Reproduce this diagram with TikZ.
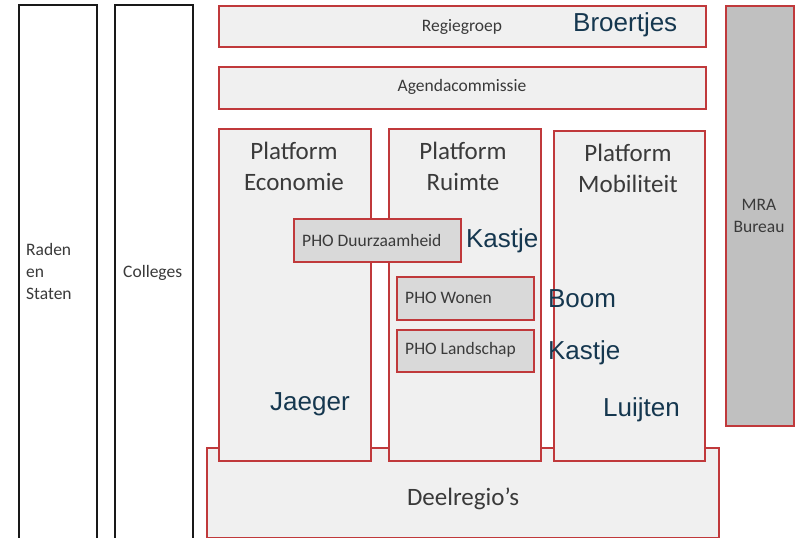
\documentclass[tikz,border=0pt]{standalone}
\usepackage{fontspec}
\setmainfont{Carlito}
\newfontfamily\arial{Liberation Sans}
\usetikzlibrary{positioning}
\definecolor{kaderrood}{HTML}{C0393B}
\definecolor{vakgrijs}{HTML}{F0F0F0}
\definecolor{phogrijs}{HTML}{D9D9D9}
\definecolor{bureaugrijs}{HTML}{C0C0C0}
\definecolor{tekstgrijs}{HTML}{3A3A3A}
\definecolor{naamblauw}{HTML}{15374F}
\tikzset{
  vak/.style={rectangle, draw=kaderrood, fill=vakgrijs, line width=1.8pt, anchor=north west, inner sep=0pt},
  zwartvak/.style={vak, draw=black!90, fill=white},
  phovak/.style={vak, fill=phogrijs},
  klein/.style={text=tekstgrijs, font=\fontsize{17.5}{22}\selectfont, inner sep=0pt, align=left},
  groot/.style={text=tekstgrijs, font=\fontsize{25}{31}\selectfont, inner sep=0pt, align=center},
  naam/.style={text=naamblauw, font=\arial\fontsize{26}{30}\selectfont, inner sep=0pt, anchor=west}
}
\begin{document}
\begin{tikzpicture}[x=1pt, y=-1pt]
\useasboundingbox (0,0) rectangle (795,538);
\node[zwartvak, minimum width=78pt, minimum height=540pt] (raden) at (18,4) {};
\node[zwartvak, minimum width=78pt, minimum height=540pt] (colleges) at (114,4) {};
\node[vak, minimum width=487pt, minimum height=41pt] (regie) at (218,5) {};
\node[vak, minimum width=487pt, minimum height=42pt] (agenda) at (218,66) {};
\node[vak, minimum width=512pt, minimum height=90pt] (deelregio) at (206,447) {};
\node[vak, minimum width=152pt, minimum height=332pt] (economie) at (218,128) {};
\node[vak, minimum width=152pt, minimum height=332pt] (ruimte) at (388,128) {};
\node[vak, minimum width=151pt, minimum height=330pt] (mobiliteit) at (553,130) {};
\node[vak, fill=bureaugrijs, minimum width=68pt, minimum height=420pt] (bureau) at (725,5) {};
\node[phovak, minimum width=167pt, minimum height=43pt] (duurzaam) at (293,218) {};
\node[phovak, minimum width=137pt, minimum height=43pt] (wonen) at (396,276) {};
\node[phovak, minimum width=137pt, minimum height=42pt] (landschap) at (396,329) {};

\node[klein, anchor=west] (radentekst) at (26,271) {Raden\\en\\Staten};
\node[klein, anchor=west] (collegestekst) at (123,273) {Colleges};
\node[klein] (regietekst) at (462,27) {Regiegroep};
\node[klein] (agendatekst) at (462,87) {Agendacommissie};
\node[klein, align=center] (bureautekst) at (759,216) {MRA\\Bureau};
\node[klein, anchor=west] (duurzaamtekst) at (302,240) {PHO Duurzaamheid};
\node[klein, anchor=west] (wonentekst) at (405,298) {PHO Wonen};
\node[klein, anchor=west] (landschaptekst) at (405,350) {PHO Landschap};
\node[groot] (economietekst) at (294,166) {Platform\\Economie};
\node[groot] (ruimtetekst) at (463,166) {Platform\\Ruimte};
\node[groot] (mobiliteittekst) at (628,168) {Platform\\Mobiliteit};
\node[groot] (deelregiotekst) at (463,499) {Deelregio’s};

\node[naam] (broertjes) at (573,25) {Broertjes};
\node[naam, right=4pt of duurzaam] (kastje) {Kastje};
\node[naam, right=13pt of wonen] (boom) {Boom};
\node[naam, right=13pt of landschap, yshift=-2pt] (kastjetwee) {Kastje};
\node[naam] (jaeger) at (270,404) {Jaeger};
\node[naam] (luijten) at (603,410) {Luijten};
\end{tikzpicture}
\end{document}
